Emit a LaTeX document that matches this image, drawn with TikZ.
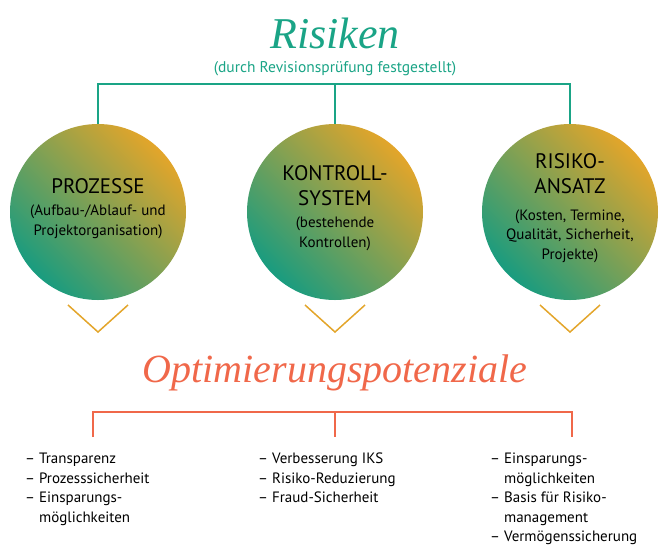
\documentclass[tikz,border=0pt]{standalone}
\usepackage{fontspec}
\setmainfont{PT Sans}
\newfontfamily\titlefont{Liberation Serif}
\usetikzlibrary{positioning}
\definecolor{teal}{HTML}{1AA486}
\definecolor{coral}{HTML}{F0684A}
\definecolor{gold}{HTML}{E3A52A}
\tikzset{
  ball/.style={circle, minimum size=176, inner sep=0pt,
    left color=teal!95!black, right color=gold, shading angle=135},
  item/.style={anchor=north west, align=left, font=\fontsize{15}{19.5}\selectfont, inner sep=0pt},
  chev/.style={gold, line width=1.5pt}
}
\begin{document}
\begin{tikzpicture}[x=1pt, y=-1pt]
\useasboundingbox (0,0) rectangle (670,550);
% titles
\node[font=\titlefont\itshape\fontsize{44}{44}\selectfont, text=teal] (risiken) at (335,33) {Risiken};
\node[font=\fontsize{15.5}{17}\selectfont, text=teal] (sub) at (335,69) {(durch Revisionsprüfung festgestellt)};
\node[font=\titlefont\itshape\fontsize{40}{40}\selectfont, text=coral] (opt) at (335,373) {Optimierungspotenziale};
% circles
\node[ball] (proz) at (98,212) {};
\node[ball] (kontr) at (335,212) {};
\node[ball] (risk) at (570,212) {};
\node[align=center, font=\fontsize{21}{24}\selectfont] at (98,186) {PROZESSE};
\node[align=center, font=\fontsize{15}{19.5}\selectfont] at (98,222) {(Aufbau-/Ablauf- und\\Projektorganisation)};
\node[align=center, font=\fontsize{21}{25}\selectfont] at (335,186) {KONTROLL-\\SYSTEM};
\node[align=center, font=\fontsize{15}{19.5}\selectfont] at (335,234) {(bestehende\\Kontrollen)};
\node[align=center, font=\fontsize{21}{25}\selectfont] at (570,174) {RISIKO-\\ANSATZ};
\node[align=center, font=\fontsize{15}{19.5}\selectfont] at (570,236) {(Kosten, Termine,\\Qualität, Sicherheit,\\Projekte)};
% brackets
\draw[teal, line width=1.5pt] (proz.north) -- (98,84) -- (570,84) -- (risk.north);
\draw[teal, line width=1.5pt] (335,84) -- (kontr.north);
\draw[coral, line width=1.5pt] (93,437) -- (93,412) -- (572,412) -- (572,437);
\draw[coral, line width=1.5pt] (335,412) -- (335,437);
% chevrons
\foreach \x in {98,335,570} \draw[chev] (\x-30,305) -- (\x,332) -- (\x+30,305);
% lists
\node[item] (l1) at (25,453) {– Transparenz\\– Prozesssicherheit\\– Einsparungs-\\\phantom{– }möglichkeiten};
\node[item] (l2) at (258,453) {– Verbesserung IKS\\– Risiko-Reduzierung\\– Fraud-Sicherheit};
\node[item] (l3) at (490,453) {– Einsparungs-\\\phantom{– }möglichkeiten\\– Basis für Risiko-\\\phantom{– }management\\– Vermögenssicherung};
\end{tikzpicture}
\end{document}
